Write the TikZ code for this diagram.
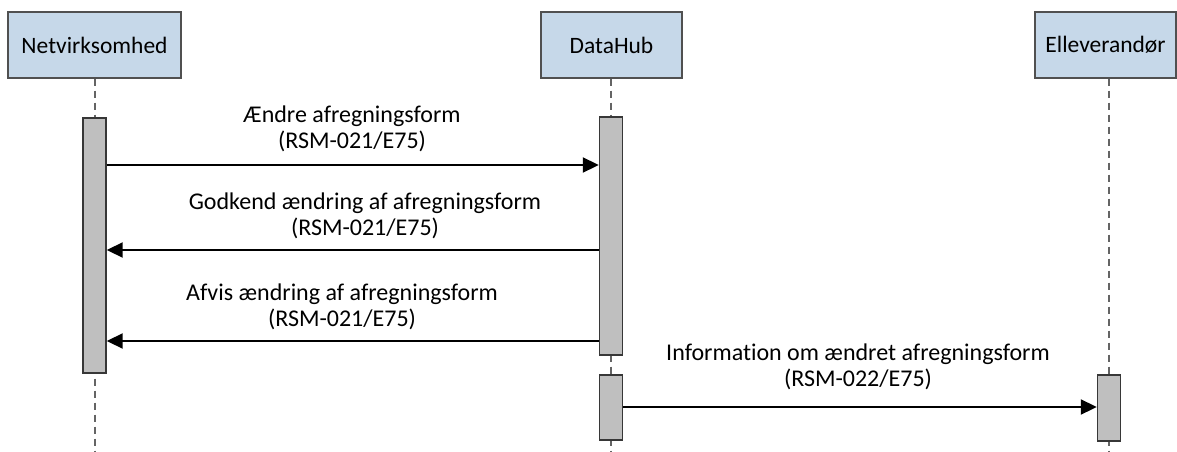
\documentclass[tikz,border=0pt]{standalone}
\usepackage{fontspec}
\setmainfont{Carlito}[Ligatures=NoCommon]
\usetikzlibrary{arrows.meta}
\definecolor{boxblu}{RGB}{198,216,233}
\definecolor{boxbordo}{RGB}{80,80,80}
\definecolor{bargrigio}{RGB}{191,191,191}
\definecolor{barbordo}{RGB}{55,55,55}
\definecolor{vitagrigio}{RGB}{100,100,100}
\tikzset{
  attore/.style={draw=boxbordo, fill=boxblu, line width=1.4pt, minimum height=66pt, inner sep=0pt, font=\fontsize{23.5}{27}\selectfont},
  attivo/.style={draw=barbordo, fill=bargrigio, line width=1.4pt, minimum width=23pt, inner sep=0pt},
  vita/.style={draw=vitagrigio, line width=1.3pt, dash pattern=on 7pt off 5pt},
  msg/.style={-{Triangle[length=16pt,width=15pt]}, line width=1.9pt},
  etichetta/.style={align=center, inner sep=0pt, font=\fontsize{24}{26}\selectfont}
}
\begin{document}
\begin{tikzpicture}[x=1pt, y=-1pt]
    \useasboundingbox (0,0) rectangle (1177,452);
    %disegno attori
    \node[attore, minimum width=173pt] (nv) at (94.5,45) {Netvirksomhed};
    \node[attore, minimum width=141pt] (dh) at (611.5,45) {DataHub};
    \node[attore, minimum width=141pt] (el) at (1105.5,45) {Elleverandør};
    %disegno linee di vita
    \coordinate (nvfine) at (95,452);
    \coordinate (dhfine) at (611,452);
    \coordinate (elfine) at (1109,452);
    \draw[vita] (nvfine |- nv.south) -- (nvfine);
    \draw[vita] (dhfine |- dh.south) -- (dhfine);
    \draw[vita] (elfine |- el.south) -- (elfine);
    %disegno attivazioni
    \node[attivo, minimum height=255pt] (nvbar) at (94.5,245.5) {};
    \node[attivo, minimum height=238pt] (dhbarA) at (611,236) {};
    \node[attivo, minimum height=65pt] (dhbarB) at (611,407.5) {};
    \node[attivo, minimum height=66pt] (elbar) at (1109,408) {};
    %%%%%%%%%%%%%%%%%%%%%%%%%%%%%%%%%%%%%%%%%%%%%%%%%%%%%%%%%%%%%%%%%%%%%%%%%%
    %disegno messaggio 1
    \draw[msg] (nvbar.east |- 0,165) -- (dhbarA.west |- 0,165);
    \node[etichetta] (lab1) at (352,129) {Ændre afregningsform\\(RSM-021/E75)};
    %disegno messaggio 2
    \draw[msg] (dhbarA.west |- 0,250) -- (nvbar.east |- 0,250);
    \node[etichetta] (lab2) at (365,216) {Godkend ændring af afregningsform\\(RSM-021/E75)};
    %disegno messaggio 3
    \draw[msg] (dhbarA.west |- 0,341) -- (nvbar.east |- 0,341);
    \node[etichetta] (lab3) at (342,307) {Afvis ændring af afregningsform\\(RSM-021/E75)};
    %disegno messaggio 4
    \draw[msg] (dhbarB.east |- 0,407) -- (elbar.west |- 0,407);
    \node[etichetta] (lab4) at (858,367) {Information om ændret afregningsform\\(RSM-022/E75)};
\end{tikzpicture}
\end{document}
